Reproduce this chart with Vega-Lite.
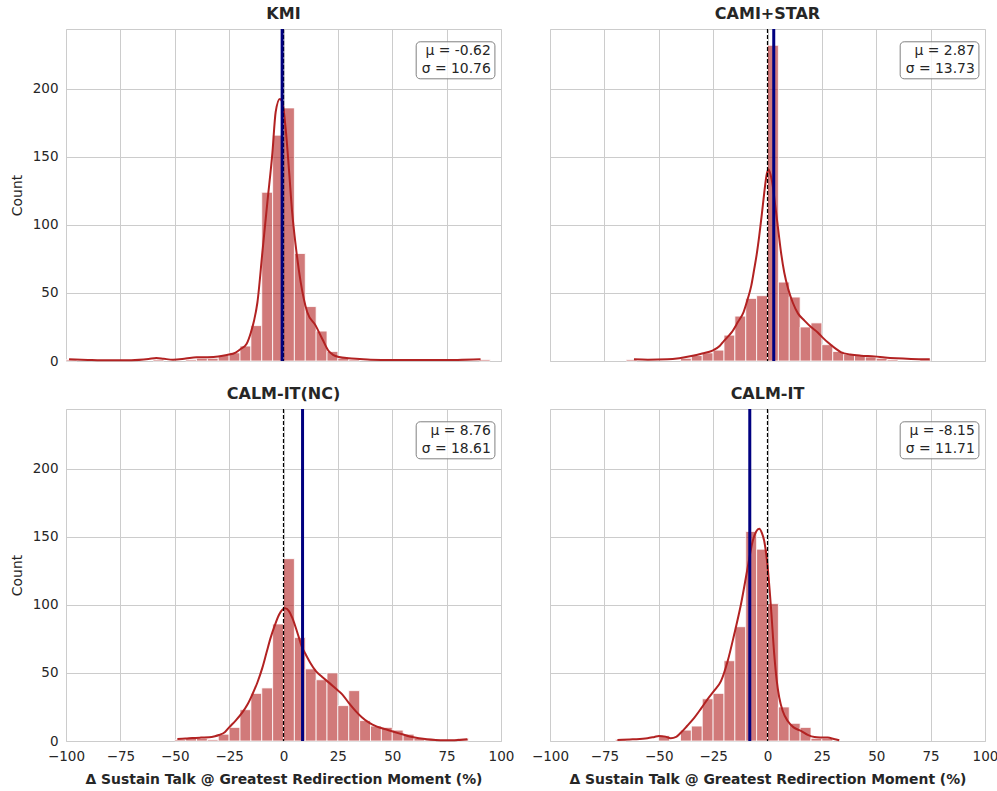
{
  "$schema": "https://vega.github.io/schema/vega-lite/v6.json",
  "background": "white",
  "padding": {"left": 10, "top": 5, "right": 5, "bottom": 5},
  "datasets": {
    "all": [
      {"panel":"KMI","kind":"bar","x":-100,"x2":-95,"y":1},
      {"panel":"KMI","kind":"bar","x":-60,"x2":-55,"y":1},
      {"panel":"KMI","kind":"bar","x":-45,"x2":-40,"y":1},
      {"panel":"KMI","kind":"bar","x":-40,"x2":-35,"y":2},
      {"panel":"KMI","kind":"bar","x":-35,"x2":-30,"y":2},
      {"panel":"KMI","kind":"bar","x":-30,"x2":-25,"y":4},
      {"panel":"KMI","kind":"bar","x":-25,"x2":-20,"y":6},
      {"panel":"KMI","kind":"bar","x":-20,"x2":-15,"y":11},
      {"panel":"KMI","kind":"bar","x":-15,"x2":-10,"y":26},
      {"panel":"KMI","kind":"bar","x":-10,"x2":-5,"y":124},
      {"panel":"KMI","kind":"bar","x":-5,"x2":0,"y":166},
      {"panel":"KMI","kind":"bar","x":0,"x2":5,"y":186},
      {"panel":"KMI","kind":"bar","x":5,"x2":10,"y":79},
      {"panel":"KMI","kind":"bar","x":10,"x2":15,"y":40},
      {"panel":"KMI","kind":"bar","x":15,"x2":20,"y":22},
      {"panel":"KMI","kind":"bar","x":20,"x2":25,"y":7},
      {"panel":"KMI","kind":"bar","x":25,"x2":30,"y":2},
      {"panel":"KMI","kind":"bar","x":30,"x2":35,"y":1},
      {"panel":"KMI","kind":"bar","x":90,"x2":95,"y":1},

      {"panel":"CAMI+STAR","kind":"bar","x":-65,"x2":-60,"y":1},
      {"panel":"CAMI+STAR","kind":"bar","x":-40,"x2":-35,"y":2},
      {"panel":"CAMI+STAR","kind":"bar","x":-35,"x2":-30,"y":4},
      {"panel":"CAMI+STAR","kind":"bar","x":-30,"x2":-25,"y":6},
      {"panel":"CAMI+STAR","kind":"bar","x":-25,"x2":-20,"y":8},
      {"panel":"CAMI+STAR","kind":"bar","x":-20,"x2":-15,"y":19},
      {"panel":"CAMI+STAR","kind":"bar","x":-15,"x2":-10,"y":33},
      {"panel":"CAMI+STAR","kind":"bar","x":-10,"x2":-5,"y":46},
      {"panel":"CAMI+STAR","kind":"bar","x":-5,"x2":0,"y":48},
      {"panel":"CAMI+STAR","kind":"bar","x":0,"x2":5,"y":232},
      {"panel":"CAMI+STAR","kind":"bar","x":5,"x2":10,"y":58},
      {"panel":"CAMI+STAR","kind":"bar","x":10,"x2":15,"y":47},
      {"panel":"CAMI+STAR","kind":"bar","x":15,"x2":20,"y":25},
      {"panel":"CAMI+STAR","kind":"bar","x":20,"x2":25,"y":28},
      {"panel":"CAMI+STAR","kind":"bar","x":25,"x2":30,"y":12},
      {"panel":"CAMI+STAR","kind":"bar","x":30,"x2":35,"y":7},
      {"panel":"CAMI+STAR","kind":"bar","x":35,"x2":40,"y":5},
      {"panel":"CAMI+STAR","kind":"bar","x":40,"x2":45,"y":4},
      {"panel":"CAMI+STAR","kind":"bar","x":45,"x2":50,"y":3},
      {"panel":"CAMI+STAR","kind":"bar","x":50,"x2":55,"y":2},
      {"panel":"CAMI+STAR","kind":"bar","x":55,"x2":60,"y":1},
      {"panel":"CAMI+STAR","kind":"bar","x":70,"x2":75,"y":1},

      {"panel":"CALM-IT(NC)","kind":"bar","x":-50,"x2":-45,"y":1},
      {"panel":"CALM-IT(NC)","kind":"bar","x":-45,"x2":-40,"y":2},
      {"panel":"CALM-IT(NC)","kind":"bar","x":-40,"x2":-35,"y":2},
      {"panel":"CALM-IT(NC)","kind":"bar","x":-35,"x2":-30,"y":1},
      {"panel":"CALM-IT(NC)","kind":"bar","x":-30,"x2":-25,"y":5},
      {"panel":"CALM-IT(NC)","kind":"bar","x":-25,"x2":-20,"y":10},
      {"panel":"CALM-IT(NC)","kind":"bar","x":-20,"x2":-15,"y":23},
      {"panel":"CALM-IT(NC)","kind":"bar","x":-15,"x2":-10,"y":35},
      {"panel":"CALM-IT(NC)","kind":"bar","x":-10,"x2":-5,"y":39},
      {"panel":"CALM-IT(NC)","kind":"bar","x":-5,"x2":0,"y":86},
      {"panel":"CALM-IT(NC)","kind":"bar","x":0,"x2":5,"y":134},
      {"panel":"CALM-IT(NC)","kind":"bar","x":5,"x2":10,"y":76},
      {"panel":"CALM-IT(NC)","kind":"bar","x":10,"x2":15,"y":53},
      {"panel":"CALM-IT(NC)","kind":"bar","x":15,"x2":20,"y":45},
      {"panel":"CALM-IT(NC)","kind":"bar","x":20,"x2":25,"y":50},
      {"panel":"CALM-IT(NC)","kind":"bar","x":25,"x2":30,"y":26},
      {"panel":"CALM-IT(NC)","kind":"bar","x":30,"x2":35,"y":37},
      {"panel":"CALM-IT(NC)","kind":"bar","x":35,"x2":40,"y":15},
      {"panel":"CALM-IT(NC)","kind":"bar","x":40,"x2":45,"y":11},
      {"panel":"CALM-IT(NC)","kind":"bar","x":45,"x2":50,"y":10},
      {"panel":"CALM-IT(NC)","kind":"bar","x":50,"x2":55,"y":8},
      {"panel":"CALM-IT(NC)","kind":"bar","x":55,"x2":60,"y":5},
      {"panel":"CALM-IT(NC)","kind":"bar","x":60,"x2":65,"y":2},
      {"panel":"CALM-IT(NC)","kind":"bar","x":65,"x2":70,"y":1},
      {"panel":"CALM-IT(NC)","kind":"bar","x":80,"x2":85,"y":2},

      {"panel":"CALM-IT","kind":"bar","x":-70,"x2":-65,"y":1},
      {"panel":"CALM-IT","kind":"bar","x":-50,"x2":-45,"y":4},
      {"panel":"CALM-IT","kind":"bar","x":-40,"x2":-35,"y":8},
      {"panel":"CALM-IT","kind":"bar","x":-35,"x2":-30,"y":11},
      {"panel":"CALM-IT","kind":"bar","x":-30,"x2":-25,"y":31},
      {"panel":"CALM-IT","kind":"bar","x":-25,"x2":-20,"y":35},
      {"panel":"CALM-IT","kind":"bar","x":-20,"x2":-15,"y":59},
      {"panel":"CALM-IT","kind":"bar","x":-15,"x2":-10,"y":84},
      {"panel":"CALM-IT","kind":"bar","x":-10,"x2":-5,"y":154},
      {"panel":"CALM-IT","kind":"bar","x":-5,"x2":0,"y":141},
      {"panel":"CALM-IT","kind":"bar","x":0,"x2":5,"y":101},
      {"panel":"CALM-IT","kind":"bar","x":5,"x2":10,"y":25},
      {"panel":"CALM-IT","kind":"bar","x":10,"x2":15,"y":13},
      {"panel":"CALM-IT","kind":"bar","x":15,"x2":20,"y":10},
      {"panel":"CALM-IT","kind":"bar","x":20,"x2":25,"y":2},
      {"panel":"CALM-IT","kind":"bar","x":25,"x2":30,"y":2},

      {"panel":"KMI","kind":"kde","x":-98.6,"y":1.2},
      {"panel":"KMI","kind":"kde","x":-90,"y":0.8},
      {"panel":"KMI","kind":"kde","x":-80,"y":0.5},
      {"panel":"KMI","kind":"kde","x":-70,"y":0.6},
      {"panel":"KMI","kind":"kde","x":-62,"y":1.5},
      {"panel":"KMI","kind":"kde","x":-58.5,"y":2.2},
      {"panel":"KMI","kind":"kde","x":-55,"y":1.6},
      {"panel":"KMI","kind":"kde","x":-50.8,"y":1.0},
      {"panel":"KMI","kind":"kde","x":-45,"y":1.8},
      {"panel":"KMI","kind":"kde","x":-40,"y":2.7},
      {"panel":"KMI","kind":"kde","x":-35,"y":2.8},
      {"panel":"KMI","kind":"kde","x":-30,"y":3.3},
      {"panel":"KMI","kind":"kde","x":-26,"y":4.4},
      {"panel":"KMI","kind":"kde","x":-22,"y":6.2},
      {"panel":"KMI","kind":"kde","x":-19.7,"y":8.8},
      {"panel":"KMI","kind":"kde","x":-17,"y":12.5},
      {"panel":"KMI","kind":"kde","x":-15,"y":21},
      {"panel":"KMI","kind":"kde","x":-13.5,"y":30},
      {"panel":"KMI","kind":"kde","x":-12,"y":43},
      {"panel":"KMI","kind":"kde","x":-9.7,"y":80},
      {"panel":"KMI","kind":"kde","x":-7.4,"y":117},
      {"panel":"KMI","kind":"kde","x":-5.1,"y":153},
      {"panel":"KMI","kind":"kde","x":-3.6,"y":183},
      {"panel":"KMI","kind":"kde","x":-1.7,"y":192.6},
      {"panel":"KMI","kind":"kde","x":-0.5,"y":190},
      {"panel":"KMI","kind":"kde","x":1,"y":170.6},
      {"panel":"KMI","kind":"kde","x":2.5,"y":141},
      {"panel":"KMI","kind":"kde","x":4,"y":109},
      {"panel":"KMI","kind":"kde","x":5.6,"y":85},
      {"panel":"KMI","kind":"kde","x":7.9,"y":58},
      {"panel":"KMI","kind":"kde","x":10.9,"y":36},
      {"panel":"KMI","kind":"kde","x":14.8,"y":26},
      {"panel":"KMI","kind":"kde","x":17.9,"y":16},
      {"panel":"KMI","kind":"kde","x":20.9,"y":7},
      {"panel":"KMI","kind":"kde","x":23,"y":4.4},
      {"panel":"KMI","kind":"kde","x":25.5,"y":3},
      {"panel":"KMI","kind":"kde","x":30,"y":2},
      {"panel":"KMI","kind":"kde","x":35,"y":1.5},
      {"panel":"KMI","kind":"kde","x":40,"y":1},
      {"panel":"KMI","kind":"kde","x":50,"y":0.7},
      {"panel":"KMI","kind":"kde","x":65,"y":0.7},
      {"panel":"KMI","kind":"kde","x":80,"y":0.8},
      {"panel":"KMI","kind":"kde","x":90.6,"y":1.2},

      {"panel":"CAMI+STAR","kind":"kde","x":-61.4,"y":1.2},
      {"panel":"CAMI+STAR","kind":"kde","x":-55,"y":1.0},
      {"panel":"CAMI+STAR","kind":"kde","x":-46,"y":1.2},
      {"panel":"CAMI+STAR","kind":"kde","x":-40.6,"y":2},
      {"panel":"CAMI+STAR","kind":"kde","x":-35,"y":3.6},
      {"panel":"CAMI+STAR","kind":"kde","x":-30,"y":5.5},
      {"panel":"CAMI+STAR","kind":"kde","x":-25.3,"y":7.6},
      {"panel":"CAMI+STAR","kind":"kde","x":-22,"y":11},
      {"panel":"CAMI+STAR","kind":"kde","x":-19.9,"y":15},
      {"panel":"CAMI+STAR","kind":"kde","x":-16.5,"y":21},
      {"panel":"CAMI+STAR","kind":"kde","x":-13.7,"y":28.4},
      {"panel":"CAMI+STAR","kind":"kde","x":-11,"y":36},
      {"panel":"CAMI+STAR","kind":"kde","x":-9.1,"y":45.6},
      {"panel":"CAMI+STAR","kind":"kde","x":-7.5,"y":55},
      {"panel":"CAMI+STAR","kind":"kde","x":-6.1,"y":67.6},
      {"panel":"CAMI+STAR","kind":"kde","x":-5,"y":78},
      {"panel":"CAMI+STAR","kind":"kde","x":-3.8,"y":92},
      {"panel":"CAMI+STAR","kind":"kde","x":-2.6,"y":108},
      {"panel":"CAMI+STAR","kind":"kde","x":-1.5,"y":123.5},
      {"panel":"CAMI+STAR","kind":"kde","x":-0.5,"y":136},
      {"panel":"CAMI+STAR","kind":"kde","x":0.4,"y":141},
      {"panel":"CAMI+STAR","kind":"kde","x":1.4,"y":137},
      {"panel":"CAMI+STAR","kind":"kde","x":2.4,"y":129},
      {"panel":"CAMI+STAR","kind":"kde","x":3.5,"y":115},
      {"panel":"CAMI+STAR","kind":"kde","x":4.7,"y":99.5},
      {"panel":"CAMI+STAR","kind":"kde","x":6.2,"y":80},
      {"panel":"CAMI+STAR","kind":"kde","x":7.7,"y":65},
      {"panel":"CAMI+STAR","kind":"kde","x":9.5,"y":53},
      {"panel":"CAMI+STAR","kind":"kde","x":11.6,"y":43},
      {"panel":"CAMI+STAR","kind":"kde","x":14,"y":35},
      {"panel":"CAMI+STAR","kind":"kde","x":17,"y":29.7},
      {"panel":"CAMI+STAR","kind":"kde","x":20,"y":25},
      {"panel":"CAMI+STAR","kind":"kde","x":23.1,"y":21},
      {"panel":"CAMI+STAR","kind":"kde","x":25.5,"y":17},
      {"panel":"CAMI+STAR","kind":"kde","x":27.7,"y":13.7},
      {"panel":"CAMI+STAR","kind":"kde","x":31,"y":9.5},
      {"panel":"CAMI+STAR","kind":"kde","x":33.9,"y":6.4},
      {"panel":"CAMI+STAR","kind":"kde","x":38,"y":4.8},
      {"panel":"CAMI+STAR","kind":"kde","x":43,"y":3.9},
      {"panel":"CAMI+STAR","kind":"kde","x":49.2,"y":3.4},
      {"panel":"CAMI+STAR","kind":"kde","x":54,"y":2.6},
      {"panel":"CAMI+STAR","kind":"kde","x":59.2,"y":2},
      {"panel":"CAMI+STAR","kind":"kde","x":66,"y":1.5},
      {"panel":"CAMI+STAR","kind":"kde","x":74.6,"y":1.2},

      {"panel":"CALM-IT(NC)","kind":"kde","x":-48.8,"y":1.5},
      {"panel":"CALM-IT(NC)","kind":"kde","x":-45,"y":1.8},
      {"panel":"CALM-IT(NC)","kind":"kde","x":-41.9,"y":2.2},
      {"panel":"CALM-IT(NC)","kind":"kde","x":-38,"y":2.5},
      {"panel":"CALM-IT(NC)","kind":"kde","x":-34.2,"y":2.7},
      {"panel":"CALM-IT(NC)","kind":"kde","x":-31.5,"y":3.5},
      {"panel":"CALM-IT(NC)","kind":"kde","x":-29.7,"y":4.4},
      {"panel":"CALM-IT(NC)","kind":"kde","x":-27,"y":6.5},
      {"panel":"CALM-IT(NC)","kind":"kde","x":-25,"y":10},
      {"panel":"CALM-IT(NC)","kind":"kde","x":-22,"y":15},
      {"panel":"CALM-IT(NC)","kind":"kde","x":-19,"y":20.8},
      {"panel":"CALM-IT(NC)","kind":"kde","x":-16.5,"y":27},
      {"panel":"CALM-IT(NC)","kind":"kde","x":-14.3,"y":34.3},
      {"panel":"CALM-IT(NC)","kind":"kde","x":-12,"y":43},
      {"panel":"CALM-IT(NC)","kind":"kde","x":-9.7,"y":53.9},
      {"panel":"CALM-IT(NC)","kind":"kde","x":-7.8,"y":65},
      {"panel":"CALM-IT(NC)","kind":"kde","x":-5.9,"y":76},
      {"panel":"CALM-IT(NC)","kind":"kde","x":-4,"y":85},
      {"panel":"CALM-IT(NC)","kind":"kde","x":-2,"y":93},
      {"panel":"CALM-IT(NC)","kind":"kde","x":0.7,"y":97.5},
      {"panel":"CALM-IT(NC)","kind":"kde","x":2.5,"y":95.5},
      {"panel":"CALM-IT(NC)","kind":"kde","x":4,"y":90.6},
      {"panel":"CALM-IT(NC)","kind":"kde","x":5.5,"y":84},
      {"panel":"CALM-IT(NC)","kind":"kde","x":7.1,"y":76},
      {"panel":"CALM-IT(NC)","kind":"kde","x":8.5,"y":69},
      {"panel":"CALM-IT(NC)","kind":"kde","x":10.2,"y":63.7},
      {"panel":"CALM-IT(NC)","kind":"kde","x":12.5,"y":57},
      {"panel":"CALM-IT(NC)","kind":"kde","x":14.8,"y":51.5},
      {"panel":"CALM-IT(NC)","kind":"kde","x":17.8,"y":47},
      {"panel":"CALM-IT(NC)","kind":"kde","x":20.9,"y":42.9},
      {"panel":"CALM-IT(NC)","kind":"kde","x":24,"y":38.5},
      {"panel":"CALM-IT(NC)","kind":"kde","x":27,"y":34.3},
      {"panel":"CALM-IT(NC)","kind":"kde","x":30,"y":28},
      {"panel":"CALM-IT(NC)","kind":"kde","x":33.2,"y":22},
      {"panel":"CALM-IT(NC)","kind":"kde","x":36,"y":17.5},
      {"panel":"CALM-IT(NC)","kind":"kde","x":39.3,"y":13.5},
      {"panel":"CALM-IT(NC)","kind":"kde","x":43,"y":10.6},
      {"panel":"CALM-IT(NC)","kind":"kde","x":47,"y":8.6},
      {"panel":"CALM-IT(NC)","kind":"kde","x":51,"y":6.6},
      {"panel":"CALM-IT(NC)","kind":"kde","x":54.6,"y":4.9},
      {"panel":"CALM-IT(NC)","kind":"kde","x":58,"y":3.3},
      {"panel":"CALM-IT(NC)","kind":"kde","x":62.3,"y":2},
      {"panel":"CALM-IT(NC)","kind":"kde","x":66,"y":1.2},
      {"panel":"CALM-IT(NC)","kind":"kde","x":70,"y":0.7},
      {"panel":"CALM-IT(NC)","kind":"kde","x":74,"y":0.5},
      {"panel":"CALM-IT(NC)","kind":"kde","x":77.6,"y":0.5},
      {"panel":"CALM-IT(NC)","kind":"kde","x":81,"y":0.8},
      {"panel":"CALM-IT(NC)","kind":"kde","x":84.5,"y":1.2},

      {"panel":"CALM-IT","kind":"kde","x":-69,"y":0.7},
      {"panel":"CALM-IT","kind":"kde","x":-62,"y":1.2},
      {"panel":"CALM-IT","kind":"kde","x":-55.2,"y":2},
      {"panel":"CALM-IT","kind":"kde","x":-52,"y":3},
      {"panel":"CALM-IT","kind":"kde","x":-49.9,"y":3.7},
      {"panel":"CALM-IT","kind":"kde","x":-47,"y":3.2},
      {"panel":"CALM-IT","kind":"kde","x":-44.5,"y":2},
      {"panel":"CALM-IT","kind":"kde","x":-42,"y":3},
      {"panel":"CALM-IT","kind":"kde","x":-39.9,"y":6},
      {"panel":"CALM-IT","kind":"kde","x":-37,"y":11},
      {"panel":"CALM-IT","kind":"kde","x":-33.7,"y":17},
      {"panel":"CALM-IT","kind":"kde","x":-30.5,"y":24},
      {"panel":"CALM-IT","kind":"kde","x":-27.6,"y":30.6},
      {"panel":"CALM-IT","kind":"kde","x":-24.5,"y":37},
      {"panel":"CALM-IT","kind":"kde","x":-21.4,"y":44},
      {"panel":"CALM-IT","kind":"kde","x":-18.3,"y":58.8},
      {"panel":"CALM-IT","kind":"kde","x":-15.3,"y":78.4},
      {"panel":"CALM-IT","kind":"kde","x":-12.2,"y":100.5},
      {"panel":"CALM-IT","kind":"kde","x":-9.1,"y":127.5},
      {"panel":"CALM-IT","kind":"kde","x":-6.8,"y":147},
      {"panel":"CALM-IT","kind":"kde","x":-5.2,"y":154},
      {"panel":"CALM-IT","kind":"kde","x":-3.8,"y":156},
      {"panel":"CALM-IT","kind":"kde","x":-2.6,"y":153},
      {"panel":"CALM-IT","kind":"kde","x":-1.5,"y":147},
      {"panel":"CALM-IT","kind":"kde","x":0.1,"y":127.5},
      {"panel":"CALM-IT","kind":"kde","x":1.6,"y":98},
      {"panel":"CALM-IT","kind":"kde","x":3.1,"y":63.7},
      {"panel":"CALM-IT","kind":"kde","x":4.2,"y":45},
      {"panel":"CALM-IT","kind":"kde","x":5.4,"y":32},
      {"panel":"CALM-IT","kind":"kde","x":7,"y":22},
      {"panel":"CALM-IT","kind":"kde","x":9.3,"y":14.7},
      {"panel":"CALM-IT","kind":"kde","x":12,"y":10},
      {"panel":"CALM-IT","kind":"kde","x":15.4,"y":7.4},
      {"panel":"CALM-IT","kind":"kde","x":18.5,"y":4.5},
      {"panel":"CALM-IT","kind":"kde","x":21.6,"y":2.9},
      {"panel":"CALM-IT","kind":"kde","x":24.5,"y":2.6},
      {"panel":"CALM-IT","kind":"kde","x":27.7,"y":2.5},
      {"panel":"CALM-IT","kind":"kde","x":30.5,"y":1.5},
      {"panel":"CALM-IT","kind":"kde","x":33,"y":0.5},

      {"panel":"KMI","kind":"stat","mean":-0.62,"mu":"μ = -0.62","sigma":"σ = 10.76"},
      {"panel":"CAMI+STAR","kind":"stat","mean":2.87,"mu":"μ = 2.87","sigma":"σ = 13.73"},
      {"panel":"CALM-IT(NC)","kind":"stat","mean":8.76,"mu":"μ = 8.76","sigma":"σ = 18.61"},
      {"panel":"CALM-IT","kind":"stat","mean":-8.15,"mu":"μ = -8.15","sigma":"σ = 11.71"}
    ]
  },
  "data": {"name": "all"},
  "facet": {
    "field": "panel",
    "type": "nominal",
    "sort": ["KMI", "CAMI+STAR", "CALM-IT(NC)", "CALM-IT"],
    "header": {
      "title": null,
      "labelFont": "DejaVu Sans",
      "labelFontSize": 16,
      "labelFontWeight": "bold",
      "labelColor": "#262626",
      "labelPadding": 6
    }
  },
  "columns": 2,
  "spacing": {"row": 20, "column": 47},
  "spec": {
    "width": 435,
    "height": 332,
    "layer": [
      {
        "transform": [{"filter": "datum.kind === 'bar'"}],
        "mark": {"type": "rect", "fill": "#b22222", "fillOpacity": 0.6, "stroke": "white", "strokeWidth": 0.8},
        "encoding": {
          "x": {"field": "x", "type": "quantitative", "scale": {"domain": [-100, 100], "nice": false, "zero": false},
                "title": "Δ Sustain Talk @ Greatest Redirection Moment (%)",
                "axis": {"values": [-100, -75, -50, -25, 0, 25, 50, 75, 100], "labelFlush": false, "labelOverlap": false, "labelPadding": 4, "titlePadding": 10}},
          "x2": {"field": "x2"},
          "y": {"field": "y", "type": "quantitative", "scale": {"domain": [0, 244], "nice": false}, "title": "Count",
                "axis": {"values": [0, 50, 100, 150, 200]}}
        }
      },
      {
        "transform": [{"filter": "datum.kind === 'kde'"}],
        "mark": {"type": "line", "color": "#b22222", "strokeWidth": 2, "interpolate": "monotone"},
        "encoding": {
          "x": {"field": "x", "type": "quantitative", "title": "Δ Sustain Talk @ Greatest Redirection Moment (%)"},
          "y": {"field": "y", "type": "quantitative", "title": "Count"}
        }
      },
      {
        "transform": [{"filter": "datum.kind === 'stat'"}],
        "mark": {"type": "rule", "color": "black", "strokeWidth": 1.2, "strokeDash": [4, 2]},
        "encoding": {"x": {"datum": 0}}
      },
      {
        "transform": [{"filter": "datum.kind === 'stat'"}],
        "mark": {"type": "rule", "color": "#000080", "strokeWidth": 3},
        "encoding": {"x": {"field": "mean", "type": "quantitative", "title": "Δ Sustain Talk @ Greatest Redirection Moment (%)"}}
      },
      {
        "transform": [{"filter": "datum.kind === 'stat'"}],
        "mark": {"type": "rect", "fill": "white", "fillOpacity": 0.8, "stroke": "#808080", "strokeWidth": 1, "cornerRadius": 4},
        "encoding": {
          "x": {"datum": 61},
          "x2": {"datum": 97.2},
          "y": {"datum": 234.6},
          "y2": {"datum": 207.4}
        }
      },
      {
        "transform": [{"filter": "datum.kind === 'stat'"}],
        "mark": {"type": "text", "align": "right", "baseline": "middle", "font": "DejaVu Sans", "fontSize": 13.9, "color": "#262626"},
        "encoding": {"x": {"datum": 95.3}, "y": {"datum": 228}, "text": {"field": "mu"}}
      },
      {
        "transform": [{"filter": "datum.kind === 'stat'"}],
        "mark": {"type": "text", "align": "right", "baseline": "middle", "font": "DejaVu Sans", "fontSize": 13.9, "color": "#262626"},
        "encoding": {"x": {"datum": 95.3}, "y": {"datum": 214.5}, "text": {"field": "sigma"}}
      }
    ]
  },
  "config": {
    "font": "DejaVu Sans",
    "view": {"stroke": "#cccccc", "strokeWidth": 1},
    "axis": {
      "grid": true,
      "gridColor": "#cccccc",
      "gridWidth": 1,
      "domain": false,
      "ticks": false,
      "labelFont": "DejaVu Sans",
      "labelFontSize": 13.5,
      "labelColor": "#262626",
      "labelPadding": 6,
      "titleFont": "DejaVu Sans",
      "titleFontSize": 13.9,
      "titleColor": "#262626"
    },
    "axisX": {"titleFontWeight": "bold"},
    "axisY": {"titleFontWeight": "normal", "titlePadding": 8}
  }
}
